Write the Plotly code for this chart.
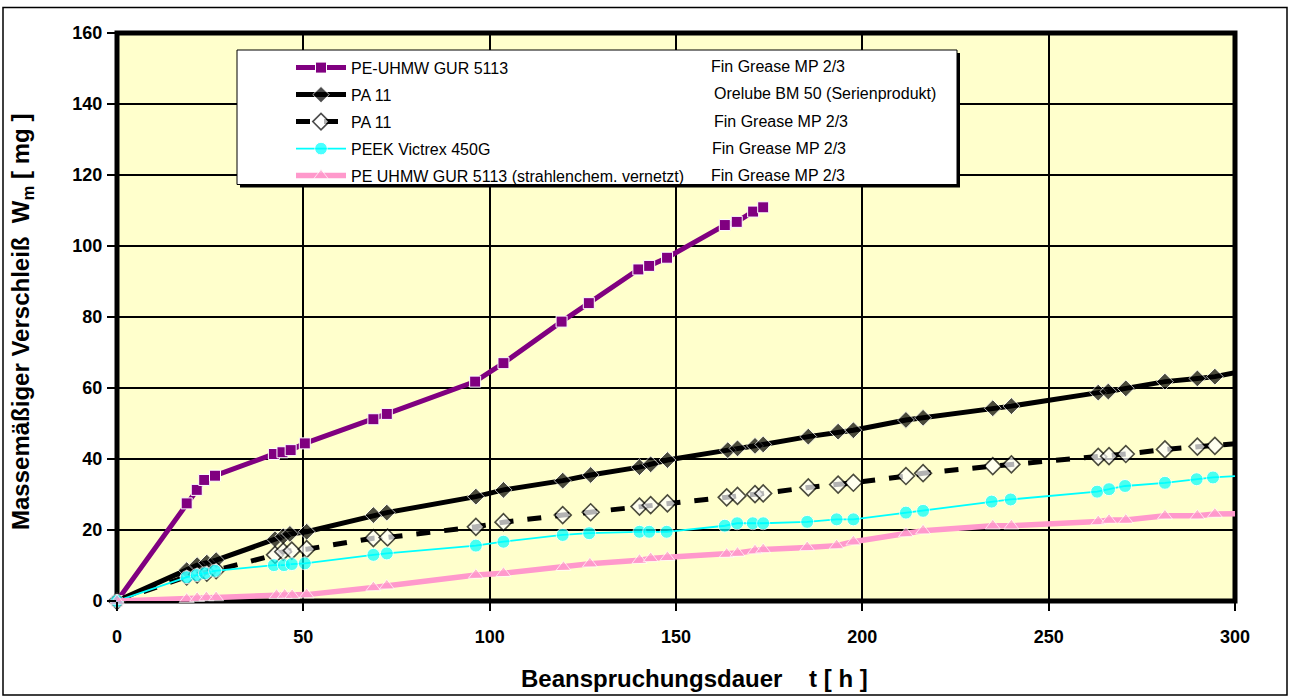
import plotly.graph_objects as go

# ---------------- data ----------------
t_pe = [0, 18.7, 21.4, 23.4, 26.3, 42.1, 44.4, 46.6, 50.4, 68.8, 72.4, 96.1, 103.7, 119.3, 126.6,
        139.9, 142.8, 147.6, 163.1, 166.3, 170.7, 173.4]
w_pe = [0, 27.5, 31.3, 34.1, 35.3, 41.4, 41.9, 42.5, 44.4, 51.2, 52.7, 61.8, 67.0, 78.7, 83.9,
        93.4, 94.4, 96.7, 105.9, 106.8, 109.7, 110.9]

t_pa_ore = [0, 18.7, 21.5, 24.1, 26.6, 42.4, 44.6, 46.4, 50.9, 68.8, 72.4, 96.3, 103.7, 119.6, 127.1,
            140.2, 143.2, 147.7, 163.9, 166.5, 171.2, 173.4, 185.5, 193.5, 197.6, 211.7, 216.3,
            235.0, 240.0, 263.3, 266.0, 270.7, 281.2, 289.9, 294.6, 300]
w_pa_ore = [0, 8.7, 10.1, 10.8, 11.5, 17.4, 18.2, 18.9, 19.5, 24.2, 24.9, 29.4, 31.3, 33.9, 35.5,
            37.7, 38.5, 39.7, 42.5, 43.0, 43.7, 44.1, 46.3, 47.7, 48.1, 51.0, 51.6,
            54.3, 54.9, 58.7, 59.0, 59.9, 61.8, 62.7, 63.2, 64.3]

t_pa_fin = [0, 18.7, 21.5, 24.1, 26.6, 42.4, 44.6, 46.9, 50.9, 68.8, 72.6, 96.3, 103.7, 119.6, 127.1,
            140.2, 143.2, 147.7, 163.6, 166.5, 171.2, 173.4, 185.5, 193.5, 197.6, 211.7, 216.3,
            235.0, 240.0, 263.3, 266.2, 270.7, 281.2, 289.9, 294.6, 300]
w_pa_fin = [0, 6.9, 7.5, 8.0, 8.7, 13.0, 13.9, 14.2, 14.6, 17.7, 17.9, 20.9, 22.2, 24.2, 25.0,
            26.6, 27.0, 27.5, 29.2, 29.6, 30.1, 30.3, 32.0, 32.8, 33.3, 35.2, 36.0,
            38.0, 38.5, 40.6, 40.8, 41.4, 42.7, 43.5, 43.7, 44.3]

t_peek = [0, 18.7, 21.4, 23.6, 26.3, 42.1, 44.8, 46.9, 50.4, 68.8, 72.4, 96.3, 103.7, 119.6, 126.7,
          140.2, 142.8, 147.5, 163.1, 166.4, 170.6, 173.4, 185.2, 193.1, 197.6, 211.7, 216.3,
          234.7, 239.8, 263.0, 266.2, 270.5, 281.2, 289.7, 294.1, 300]
w_peek = [0, 6.7, 7.3, 7.8, 8.5, 10.1, 10.1, 10.4, 10.6, 13.0, 13.4, 15.6, 16.7, 18.6, 19.1,
          19.5, 19.5, 19.5, 21.2, 21.9, 21.9, 21.9, 22.3, 23.0, 23.0, 24.9, 25.4,
          28.0, 28.6, 30.8, 31.5, 32.4, 33.3, 34.3, 34.8, 35.2]

t_pex = [0, 18.7, 21.5, 24.0, 26.6, 42.8, 45.0, 47.0, 50.9, 68.8, 72.4, 96.3, 103.7, 119.8, 126.9,
         140.2, 143.2, 147.7, 163.6, 166.5, 171.2, 173.4, 185.2, 193.1, 197.6, 211.7, 216.3,
         235.0, 240.0, 263.3, 266.2, 270.7, 281.2, 289.9, 294.6, 300]
w_pex = [0, 0.5, 0.8, 1.0, 1.0, 1.6, 1.7, 1.6, 1.8, 3.8, 4.3, 7.3, 7.8, 9.5, 10.5,
         11.5, 12.0, 12.3, 13.2, 13.5, 14.2, 14.5, 15.1, 15.6, 16.7, 19.0, 19.8,
         21.2, 21.2, 22.4, 22.8, 22.8, 24.0, 24.0, 24.5, 24.6]

names = ["PE-UHMW GUR 5113", "PA 11", "PA 11", "PEEK Victrex 450G",
         "PE UHMW GUR 5113 (strahlenchem. vernetzt)"]
lubricants = ["Fin Grease MP 2/3", "Orelube BM 50 (Serienprodukt)", "Fin Grease MP 2/3",
              "Fin Grease MP 2/3", "Fin Grease MP 2/3"]
x_ticks = [0, 50, 100, 150, 200, 250, 300]
y_ticks = [0, 20, 40, 60, 80, 100, 120, 140, 160]

# ---------------- layout geometry (pixels) ----------------
W, H = 1290, 700
L, R, T, B = 117, 1235, 33, 601
FONT = "Liberation Sans, Arial, sans-serif"


def px_x(p):
    return (p - L) / (R - L)


def px_y(p):
    return (B - p) / (B - T)


def sizes(n, s, last_hidden):
    arr = [s] * n
    if last_hidden:
        arr[-1] = 0
    return arr


fig = go.Figure()

fig.add_trace(go.Scatter(
    x=t_pe, y=w_pe, mode="lines+markers", name=names[0], legendgroup="g1",
    line=dict(color="#800080", width=5),
    marker=dict(symbol="square", size=11, color="#800080", line=dict(color="white", width=1)),
    cliponaxis=False))
fig.add_trace(go.Scatter(
    x=t_pa_ore, y=w_pa_ore, mode="lines+markers", name=names[1], legendgroup="g2",
    line=dict(color="black", width=5),
    marker=dict(symbol="diamond", size=sizes(len(t_pa_ore), 13, True), color="black"),
    cliponaxis=False))
fig.add_trace(go.Scatter(
    x=t_pa_fin, y=w_pa_fin, mode="lines+markers", name=names[2], legendgroup="g3",
    line=dict(color="black", width=5, dash="14px,14px"),
    marker=dict(symbol="diamond", size=sizes(len(t_pa_fin), 13, True), color="white",
                line=dict(color="black", width=1.6)),
    cliponaxis=False))
fig.add_trace(go.Scatter(
    x=t_peek, y=w_peek, mode="lines+markers", name=names[3], legendgroup="g4",
    line=dict(color="#00FFFF", width=1.8),
    marker=dict(symbol="circle", size=sizes(len(t_peek), 13, True), color="#00FFFF"),
    cliponaxis=False))
fig.add_trace(go.Scatter(
    x=t_pex, y=w_pex, mode="lines+markers", name=names[4], legendgroup="g5",
    line=dict(color="#FF99CC", width=5.5),
    marker=dict(symbol="triangle-up", size=sizes(len(t_pex), 13, True), color="#FF99CC"),
    cliponaxis=False))

tickfont = dict(family=FONT, size=18, color="black", weight="bold")

fig.update_xaxes(range=[0, 300], tickvals=x_ticks, ticktext=[str(v) for v in x_ticks],
                 showgrid=True, gridcolor="black", gridwidth=1.6, zeroline=False,
                 showline=False, ticks="outside", ticklen=9, tickwidth=1.5, tickcolor="black",
                 tickfont=tickfont, ticklabelstandoff=10)
fig.update_yaxes(range=[0, 160], tickvals=y_ticks, ticktext=[str(v) for v in y_ticks],
                 showgrid=True, gridcolor="black", gridwidth=1.6, zeroline=False,
                 showline=False, ticks="outside", ticklen=9, tickwidth=1.5, tickcolor="black",
                 tickfont=tickfont, ticklabelstandoff=1)

LEG_L, LEG_R, LEG_T, LEG_B = 237, 957, 50, 184.5
shapes = [
    # plot border
    dict(type="rect", xref="paper", yref="paper", x0=0, x1=1, y0=0, y1=1,
         line=dict(color="black", width=5), layer="between"),
    # outer chart frame
    dict(type="rect", xref="paper", yref="paper",
         x0=px_x(3), x1=px_x(1287), y0=px_y(695), y1=px_y(7.5),
         line=dict(color="black", width=1.5), layer="above"),
    # legend shadow
    dict(type="rect", xref="paper", yref="paper",
         x0=px_x(LEG_L + 3), x1=px_x(LEG_R + 3), y0=px_y(LEG_B + 3), y1=px_y(LEG_T + 3),
         fillcolor="black", line=dict(width=0), layer="above"),
    # legend box
    dict(type="rect", xref="paper", yref="paper",
         x0=px_x(LEG_L), x1=px_x(LEG_R), y0=px_y(LEG_B), y1=px_y(LEG_T),
         fillcolor="white", line=dict(color="black", width=1), layer="above"),
]

row_y = [66.7, 93.3, 121, 148.3, 175]
lub_x = [709, 712, 712, 710, 709]
annotations = []
for lab, yy, xx in zip(lubricants, row_y, lub_x):
    annotations.append(dict(text=lab, xref="paper", yref="paper", x=px_x(xx), y=px_y(yy),
                            xanchor="left", yanchor="middle", showarrow=False,
                            font=dict(family=FONT, size=16, color="black", weight="normal")))
annotations.append(dict(
    text="Beanspruchungsdauer\u00a0\u00a0\u00a0 t [ h ]", xref="paper", yref="paper",
    x=px_x(694.5), y=px_y(678), xanchor="center", yanchor="middle", showarrow=False,
    font=dict(family=FONT, size=24, color="black", weight="bold")))
annotations.append(dict(
    text="Massemäßiger Verschleiß\u00a0 W<sub>m</sub> [ mg ]", xref="paper", yref="paper",
    x=px_x(22), y=px_y(322), xanchor="center", yanchor="middle", showarrow=False, textangle=-90,
    font=dict(family=FONT, size=24, color="black", weight="bold")))

fig.update_layout(
    width=W, height=H,
    margin=dict(l=L, r=W - R, t=T, b=H - B, pad=0),
    paper_bgcolor="white", plot_bgcolor="#FFFFCC",
    font=dict(family=FONT, color="black"),
    shapes=shapes, annotations=annotations,
    showlegend=True,
    legend=dict(x=px_x(291), y=px_y(50.7), xanchor="left", yanchor="top",
                bgcolor="rgba(0,0,0,0)", borderwidth=0, itemwidth=50,
                tracegroupgap=3.2, traceorder="grouped",
                font=dict(family=FONT, size=16, color="black", weight="normal")),
)

fig.write_html("out.html", config={"displayModeBar": False},
               post_script="document.body.style.margin='0px';")
